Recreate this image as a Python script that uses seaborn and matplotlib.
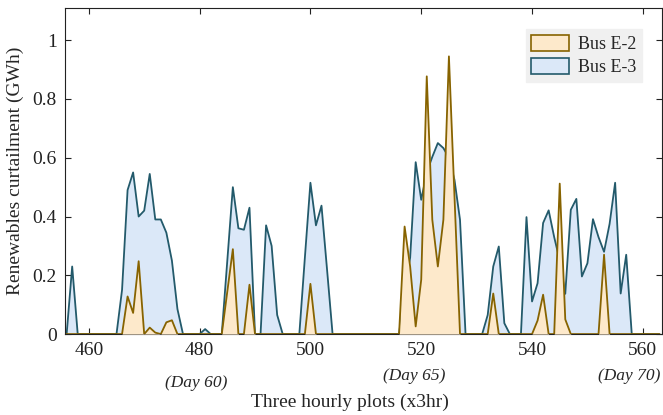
"""Renewables curtailment at buses E-2 and E-3"""

import numpy as np
import seaborn as sns
import matplotlib
matplotlib.use("Agg")
import matplotlib.pyplot as plt
from matplotlib.patches import Patch
from matplotlib.ticker import FuncFormatter

# three-hourly step index
STEPS = list(range(456, 564))

BUS_E3 = [0, 0.23, 0, 0, 0, 0, 0, 0, 0, 0,                       # 456-465
          0.15, 0.49, 0.55, 0.40, 0.42, 0.545, 0.39, 0.39, 0.345, 0.25,  # 466-475
          0.085, 0, 0, 0, 0, 0.017, 0, 0, 0, 0.25,                # 476-485
          0.50, 0.36, 0.355, 0.43, 0, 0, 0.37, 0.30, 0.065, 0,     # 486-495
          0, 0, 0, 0.26, 0.515, 0.37, 0.437, 0.22, 0, 0,          # 496-505
          0, 0, 0, 0, 0, 0, 0, 0, 0, 0,                           # 506-515
          0, 0.15, 0.26, 0.585, 0.457, 0.55, 0.603, 0.65, 0.633, 0.60,  # 516-525
          0.525, 0.389, 0, 0, 0, 0, 0.065, 0.23, 0.298, 0.037,     # 526-535
          0, 0, 0, 0.398, 0.111, 0.173, 0.378, 0.421, 0.33, 0.25,  # 536-545
          0.137, 0.423, 0.46, 0.196, 0.241, 0.391, 0.33, 0.28, 0.375, 0.515,  # 546-555
          0.138, 0.27, 0, 0, 0, 0, 0, 0]                          # 556-563

BUS_E2 = [0, 0, 0, 0, 0, 0, 0, 0, 0, 0,                           # 456-465
          0, 0.128, 0.072, 0.248, 0, 0.022, 0.005, 0, 0.04, 0.047,  # 466-475
          0, 0, 0, 0, 0, 0, 0, 0, 0, 0.145,                       # 476-485
          0.289, 0, 0, 0.168, 0, 0, 0, 0, 0, 0,                   # 486-495
          0, 0, 0, 0, 0.171, 0, 0, 0, 0, 0,                       # 496-505
          0, 0, 0, 0, 0, 0, 0, 0, 0, 0,                           # 506-515
          0, 0.366, 0.23, 0.026, 0.185, 0.877, 0.389, 0.23, 0.389, 0.945,  # 516-525
          0.47, 0, 0, 0, 0, 0, 0, 0.138, 0, 0,                    # 526-535
          0, 0, 0, 0, 0, 0.046, 0.134, 0, 0, 0.512,               # 536-545
          0.05, 0, 0, 0, 0, 0, 0, 0.27, 0, 0,                     # 546-555
          0, 0, 0, 0, 0, 0, 0, 0]                                 # 556-563

XTICKS = [460, 480, 500, 520, 540, 560]
YTICKS = [0, 0.2, 0.4, 0.6, 0.8, 1.0]
DAY_LABELS = [(479.4, -0.150, "(Day 60)"),
              (518.8, -0.130, "(Day 65)"),
              (557.6, -0.130, "(Day 70)")]

E2_LINE, E2_FILL = "#876300", "#fde9cb"
E3_LINE, E3_FILL = "#235a6b", "#dbe8f8"

sns.set_theme(style="ticks")
plt.rcParams["font.family"] = ["Liberation Serif", "DejaVu Serif"]

fig = plt.figure(figsize=(6.63, 4.15), dpi=100)
ax = fig.add_axes([0.098, 0.195, 0.9, 0.786])

ax.fill_between(STEPS, BUS_E3, color=E3_FILL, lw=0, zorder=1)
sns.lineplot(x=STEPS, y=BUS_E3, ax=ax, color=E3_LINE, lw=1.3, zorder=2)
ax.fill_between(STEPS, BUS_E2, color=E2_FILL, lw=0, zorder=3)
sns.lineplot(x=STEPS, y=BUS_E2, ax=ax, color=E2_LINE, lw=1.3, zorder=4)

ax.set_xlim(455.7, 563.4)
ax.set_ylim(0, 1.11)
ax.set_xticks(XTICKS)
ax.set_yticks(YTICKS)
ax.yaxis.set_major_formatter(FuncFormatter(lambda v, p: f"{v:g}"))
ax.tick_params(direction="in", top=True, right=True, length=4, width=0.8,
               labelsize=14, pad=6, colors="#222222")
for s in ax.spines.values():
    s.set_linewidth(0.8)
    s.set_color("#222222")

ax.set_ylabel("Renewables curtailment (GWh)", fontsize=14, labelpad=6)
ax.set_xlabel("Three hourly plots (x3hr)", fontsize=14, x=0.477, labelpad=25)

for xv, yv, txt in DAY_LABELS:
    ax.text(xv, yv, txt, fontsize=12.5, style="italic",
            ha="center", va="center", transform=ax.get_xaxis_transform())

handles = [Patch(facecolor=E2_FILL, edgecolor=E2_LINE, lw=1.2, label="Bus E-2"),
           Patch(facecolor=E3_FILL, edgecolor=E3_LINE, lw=1.2, label="Bus E-3")]
leg = ax.legend(handles=handles, loc="upper right", bbox_to_anchor=(0.9665, 0.935),
                fontsize=13, frameon=True, fancybox=False, framealpha=1,
                handlelength=2.1, handleheight=1.0, borderpad=0.3,
                labelspacing=0.3, handletextpad=0.5, borderaxespad=0)
leg.get_frame().set_facecolor("#f0f0f0")
leg.get_frame().set_edgecolor("#f0f0f0")

fig.savefig("out.png", dpi=100)
plt.close()
